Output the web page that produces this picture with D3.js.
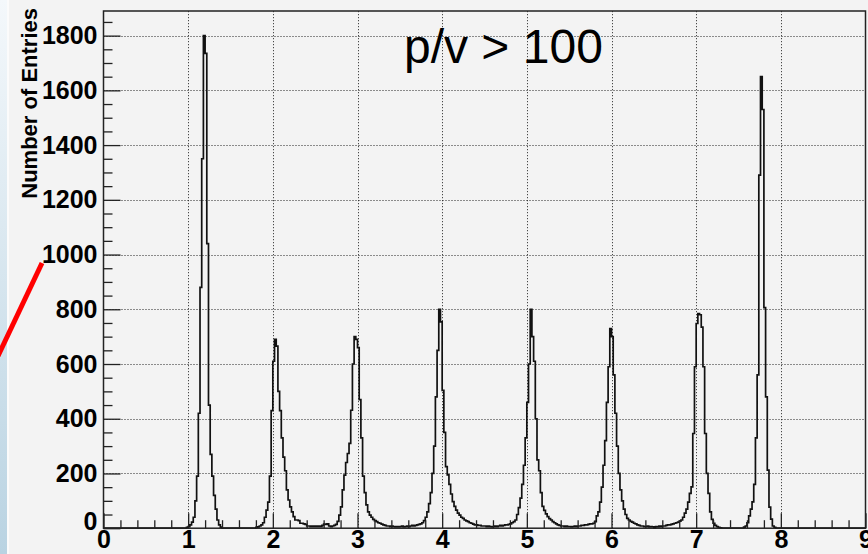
<!DOCTYPE html>
<html>
<head>
<meta charset="utf-8">
<title>p/v &gt; 100</title>
<script src="https://cdnjs.cloudflare.com/ajax/libs/d3/7.8.5/d3.min.js"></script>
<style>
  body { margin: 0; background: #f3f3f3; overflow: hidden; }
  svg { display: block; }
  text { font-family: "Liberation Sans", Arial, sans-serif; }
</style>
</head>
<body>
<div id="chart"></div>
<script>
var width = 868, height = 554;
var margin = {top: 11, right: 2.5, bottom: 25.8, left: 103.5};

// histogram setup
var binWidth = 0.02;
var xMax = 9, yMax = 1890;
var xTicks = [0, 1, 2, 3, 4, 5, 6, 7, 8, 9];
var yTicks = [0, 200, 400, 600, 800, 1000, 1200, 1400, 1600, 1800];
var titleText = "p/v > 100";
var yTitle = "Number of Entries";

// bin contents, one array per peak (first bin low edge in peakStarts)
var peakStarts = [0.98, 1.80, 2.50, 3.50, 4.50, 5.54, 6.52, 7.56];
var peak1 = [3, 6, 12, 22, 40, 100, 190, 420, 880, 1350, 1800, 1735, 1040, 450, 270, 190, 120, 70, 30, 12, 4];
var peak2 = [3, 5, 8, 12, 20, 40, 66, 95, 190, 430, 610, 690, 665, 500, 430, 330, 260, 210, 140, 103,
             78, 60, 42, 30, 30, 28, 18, 18, 16, 14, 8, 8, 6, 8, 6];
var peak3 = [8, 6, 8, 6, 10, 15, 14, 16, 8, 6, 8, 10, 14, 25, 48, 78, 140, 194, 240, 273,
             310, 431, 600, 700, 690, 660, 470, 330, 190, 130, 85, 60, 48, 40, 32, 28, 24, 20, 18, 15,
             12, 10, 8, 8, 6, 8, 6, 5, 6, 5];
var peak4 = [6, 8, 5, 6, 8, 6, 8, 10, 8, 10, 12, 14, 16, 20, 28, 40, 60, 90, 130, 200,
             300, 480, 650, 800, 754, 504, 350, 225, 195, 160, 125, 97, 80, 66, 55, 48, 40, 36, 30, 27,
             24, 20, 18, 15, 12, 12, 10, 10, 8, 8];
var peak5 = [8, 6, 8, 6, 5, 6, 8, 6, 8, 10, 8, 10, 12, 12, 14, 16, 20, 24, 30, 50,
             75, 110, 160, 230, 330, 460, 600, 800, 700, 610, 400, 250, 210, 130, 80, 65, 52, 42, 35, 30,
             24, 20, 16, 12, 10, 8, 8, 6, 8, 6, 6, 5];
var peak6 = [6, 8, 6, 8, 8, 10, 10, 12, 12, 14, 16, 16, 18, 24, 45, 60, 95, 150, 230, 320,
             460, 590, 729, 700, 560, 420, 300, 200, 140, 100, 70, 50, 36, 30, 25, 22, 18, 16, 12, 10,
             8, 8, 6, 6, 8, 5, 6, 5];
var peak7 = [6, 5, 8, 6, 8, 8, 10, 12, 12, 14, 16, 18, 20, 22, 26, 30, 40, 55, 70, 95,
             127, 151, 346, 590, 748, 784, 780, 735, 590, 346, 200, 127, 60, 32, 18, 10, 6, 3, 1];
var peak8 = [4, 8, 20, 45, 70, 96, 160, 330, 560, 1290, 1650, 1530, 806, 480, 212, 77, 33, 8, 3];
var peaks = [peak1, peak2, peak3, peak4, peak5, peak6, peak7, peak8];

// fill the full bin array
var nBins = Math.round(xMax / binWidth);
var counts = d3.range(nBins).map(function(){ return 0; });
peaks.forEach(function(p, i){
  var i0 = Math.round(peakStarts[i] / binWidth);
  p.forEach(function(c, j){ counts[i0 + j] = c; });
});
var points = counts.map(function(c, i){ return [i * binWidth, c]; });
points.push([xMax, counts[nBins - 1]]);

var svg = d3.select('#chart').append('svg')
  .attr('width', width)
  .attr('height', height);

// slide background strip on the left
var grad = svg.append('defs').append('linearGradient')
  .attr('id', 'slide').attr('x1', 0).attr('y1', 0).attr('x2', 0).attr('y2', 1);
grad.append('stop').attr('offset', '0%').attr('stop-color', '#f4f8fb');
grad.append('stop').attr('offset', '100%').attr('stop-color', '#b9d3e2');
svg.append('rect').attr('x', 0).attr('y', 0).attr('width', 7).attr('height', height).attr('fill', 'url(#slide)');
svg.append('rect').attr('x', 7).attr('y', 0).attr('width', 2).attr('height', height).attr('fill', '#fbfbfb');
svg.append('rect').attr('x', 9).attr('y', 0).attr('width', width - 9).attr('height', height).attr('fill', '#f3f3f3');

var innerW = width - margin.left - margin.right;
var innerH = height - margin.top - margin.bottom;

var x = d3.scaleLinear().domain([0, xMax]).range([margin.left, margin.left + innerW]);
var y = d3.scaleLinear().domain([0, yMax]).range([margin.top + innerH, margin.top]);

// dotted grid
var grid = svg.append('g').attr('stroke', '#222').attr('stroke-width', 1).attr('stroke-dasharray', '1,2');
grid.selectAll('line.gx').data(xTicks.slice(1, -1)).enter().append('line')
  .attr('x1', function(d){ return Math.round(x(d)) + 0.5; })
  .attr('x2', function(d){ return Math.round(x(d)) + 0.5; })
  .attr('y1', y(0)).attr('y2', y(yMax));
grid.selectAll('line.gy').data(yTicks.slice(1)).enter().append('line')
  .attr('x1', x(0)).attr('x2', x(xMax))
  .attr('y1', function(d){ return Math.round(y(d)) + 0.5; })
  .attr('y2', function(d){ return Math.round(y(d)) + 0.5; });

// histogram outline
var line = d3.line()
  .x(function(d){ return x(d[0]); })
  .y(function(d){ return y(d[1]); })
  .curve(d3.curveStepAfter);
svg.append('path').datum(points)
  .attr('d', line)
  .attr('fill', 'none')
  .attr('stroke', '#111')
  .attr('stroke-width', 1.7);

// frame
svg.append('rect')
  .attr('x', x(0)).attr('y', y(yMax))
  .attr('width', x(xMax) - x(0)).attr('height', y(0) - y(yMax))
  .attr('fill', 'none').attr('stroke', '#222').attr('stroke-width', 1.5);

// axes, ticks pointing inward
var yMinor = d3.range(0, yMax, 50).filter(function(v){ return v % 200 !== 0; });
var xMinor = d3.range(0, xMax * 5 + 1).map(function(i){ return i / 5; })
  .filter(function(v){ return Math.abs(v - Math.round(v)) > 1e-6; });

var yAxis = svg.append('g').attr('transform', 'translate(' + x(0) + ',0)')
  .call(d3.axisLeft(y).tickValues(yTicks).tickSize(-17).tickPadding(6).tickFormat(d3.format('d')));
svg.append('g').attr('transform', 'translate(' + x(0) + ',0)')
  .call(d3.axisLeft(y).tickValues(yMinor).tickSize(-9).tickFormat(''));
var xAxis = svg.append('g').attr('transform', 'translate(0,' + y(0) + ')')
  .call(d3.axisBottom(x).tickValues(xTicks).tickSize(-15).tickPadding(4).tickFormat(d3.format('d')));
svg.append('g').attr('transform', 'translate(0,' + y(0) + ')')
  .call(d3.axisBottom(x).tickValues(xMinor).tickSize(-8).tickFormat(''));

svg.selectAll('.domain').remove();
svg.selectAll('.tick line').attr('stroke', '#222').attr('stroke-width', 1.3);
svg.selectAll('.tick text')
  .attr('fill', '#000')
  .style('font-size', '25px')
  .style('font-weight', 'bold')
  .style('font-family', '"Liberation Sans", Arial, sans-serif');
// y "0" label sits a bit higher than the others, like ROOT draws it
yAxis.selectAll('.tick text').filter(function(d){ return d === 0; }).attr('dy', '0.05em');
xAxis.selectAll('.tick text').attr('dy', '0.62em');

// titles
svg.append('text')
  .attr('transform', 'translate(37,' + (margin.top - 3) + ') rotate(-90)')
  .attr('text-anchor', 'end')
  .style('font-size', '22px')
  .style('font-weight', 'bold')
  .text(yTitle);

svg.append('text')
  .attr('x', 404).attr('y', 63)
  .style('font-size', '48px')
  .attr('fill', '#000')
  .text(titleText);

// red annotation line from the slide
svg.append('line')
  .attr('x1', -2).attr('y1', 356).attr('x2', 42).attr('y2', 263)
  .attr('stroke', '#ff0000').attr('stroke-width', 5);
</script>
</body>
</html>
